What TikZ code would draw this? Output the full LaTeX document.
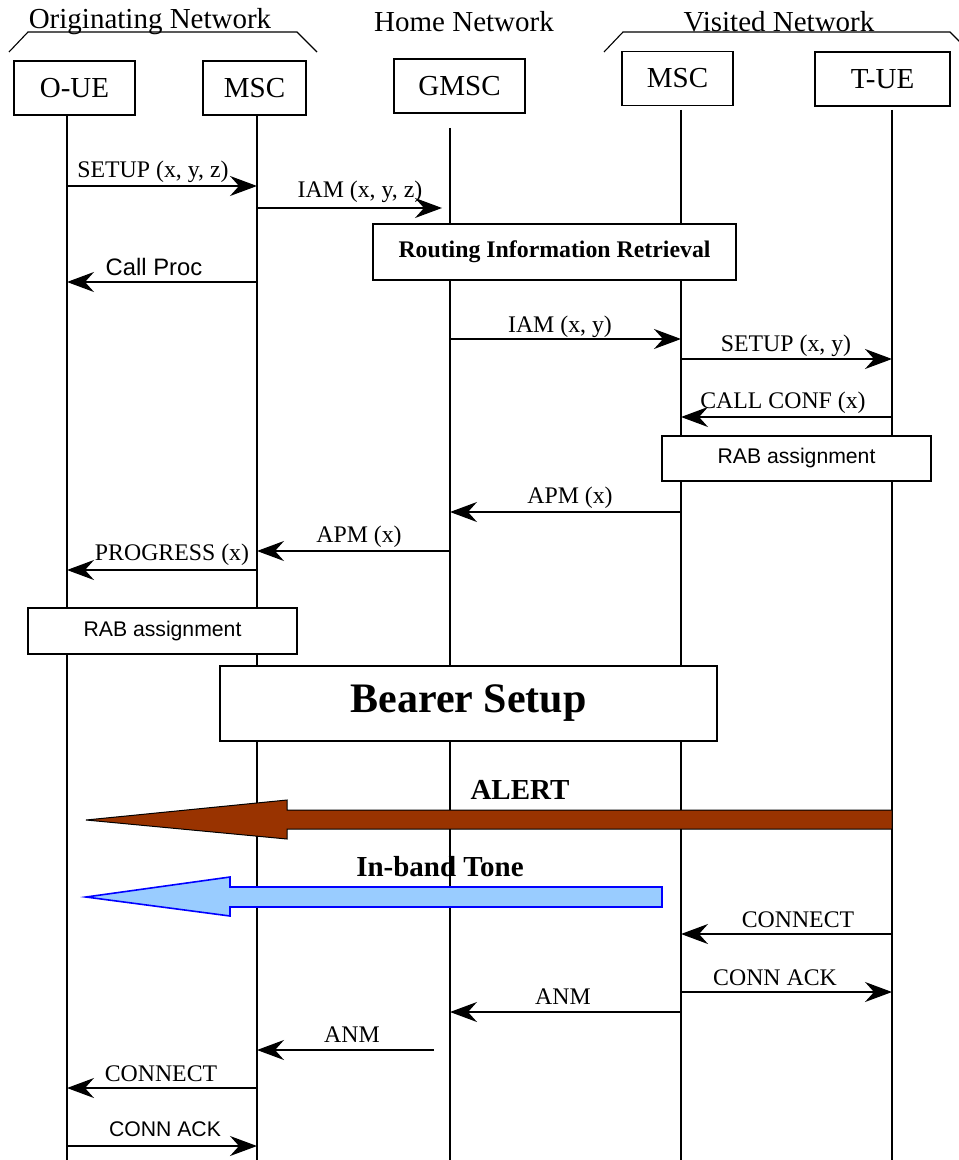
\documentclass[tikz,border=0pt]{standalone}
\usepackage{fontspec}
\setmainfont{Liberation Serif}
\newfontfamily\arialfont{Liberation Sans}
\usetikzlibrary{arrows.meta}
\newcommand\msgfont{\fontsize{11.9}{14}\selectfont}
\newcommand\sansmsg{\arialfont\fontsize{11.9}{14}\selectfont}
\newcommand\sanssmall{\arialfont\fontsize{10.6}{13}\selectfont}
\newcommand\bigfont{\fontsize{14.5}{17}\selectfont}
\definecolor{alertbrown}{HTML}{993300}
\definecolor{toneblue}{HTML}{99CCFF}

\begin{document}
\begin{tikzpicture}[x=0.5pt, y=-0.5pt, line width=0.55pt, >={Stealth[length=13.5pt, width=10pt, inset=4.5pt]},
	ent/.style={draw, fill=white, minimum height=27pt, inner sep=0pt, font=\bigfont},
	proc/.style={draw, fill=white, inner sep=0pt},
	msg/.style={->, line width=0.75pt},
	lbl/.style={inner sep=0pt, font=\msgfont}]
	\useasboundingbox (0,0) rectangle (958,1160);
	% network headers
	\node[inner sep=0pt, font=\bigfont] (orig) at (150,22) {Originating Network};
	\node[inner sep=0pt, font=\bigfont] (home) at (464,22) {Home Network};
	\node[inner sep=0pt, font=\bigfont] (visit) at (779,22) {Visited Network};
	\draw (9,52) -- (28,32) -- (297,32) -- (317,52);
	\draw (604,52) -- (623,32) -- (950,32) -- (970,52);
	% lifelines
	\coordinate (oue) at (67,115);
	\coordinate (msc) at (257,115);
	\coordinate (gmsc) at (450,128);
	\coordinate (vmsc) at (681,110);
	\coordinate (tue) at (892,110);
	\coordinate (gmscT) at (442,128);
	\coordinate (gmscL) at (434,128);
	\foreach \l in {oue,msc,gmsc,vmsc,tue} \draw (\l) -- (\l |- 0,1160);
	% entities
	\node[ent, minimum width=60.5pt] (boxOUE) at (74.5,88) {O-UE};
	\node[ent, minimum width=51.5pt] (boxMSC) at (254.5,88) {MSC};
	\node[ent, minimum width=65.5pt] (boxGMSC) at (459.5,86) {GMSC};
	\node[ent, minimum width=55.5pt] (boxVMSC) at (677.5,78.5) {MSC};
	\node[ent, minimum width=67.5pt] (boxTUE) at (882.5,79) {T-UE};
	% procedures
	\node[proc, minimum width=181.5pt, minimum height=28pt, font=\bfseries\msgfont] (routing) at (554.5,252) {Routing Information Retrieval};
	\node[proc, minimum width=134.5pt, minimum height=22.5pt, font=\sanssmall] (rabV) at (796.5,458.5) {RAB assignment};
	\node[proc, minimum width=134.5pt, minimum height=23pt, font=\sanssmall] (rabO) at (162.5,631) {RAB assignment};
	\node[proc, minimum width=248.5pt, minimum height=37.5pt, font=\bfseries\fontsize{21}{25}\selectfont] (bearer) at (468.5,703.5) {Bearer Setup};
	% messages
	\foreach \s/\e/\y/\t/\lx/\ly/\f in {
		oue/msc/186/{SETUP (x, y, z)}/153/172/\msgfont,
		msc/gmscT/208/{IAM (x, y, z)}/360/192/\msgfont,
		msc/oue/282/{Call Proc}/154/267/\sansmsg,
		gmsc/vmsc/339/{IAM (x, y)}/560/327/\msgfont,
		vmsc/tue/359/{SETUP (x, y)}/786/346/\msgfont,
		tue/vmsc/417/{CALL CONF (x)}/783/403/\msgfont,
		vmsc/gmsc/512/{APM (x)}/570/498/\msgfont,
		gmsc/msc/551/{APM (x)}/359/537/\msgfont,
		msc/oue/570/{PROGRESS (x)}/172/555/\msgfont,
		tue/vmsc/934/{CONNECT}/798/920/\msgfont,
		vmsc/tue/992/{CONN ACK}/775/978/\msgfont,
		vmsc/gmsc/1012/{ANM}/563/997/\msgfont,
		gmscL/msc/1050/{ANM}/352/1035/\msgfont,
		msc/oue/1088/{CONNECT}/161/1074/\msgfont,
		oue/msc/1146/{CONN ACK}/165/1129/\sanssmall} {
		\draw[msg] (\s |- 0,\y) -- (\e |- 0,\y);
		\node[lbl, font=\f] (m\y) at (\lx,\ly) {\t};
	}
	% alerting and tone
	\fill[alertbrown, draw=black, line width=0.5pt] (tue |- 0,810) -- (287,810) -- (287,800) -- (86,820) -- (287,839) -- (287,829) -- (tue |- 0,829) -- cycle;
	\node[lbl, font=\bfseries\bigfont] (alert) at (520,790) {ALERT};
	\fill[toneblue, draw=blue, line width=0.8pt] (662,887) -- (230,887) -- (230,877) -- (86,897) -- (230,916) -- (230,907) -- (662,907) -- cycle;
	\node[lbl, font=\bfseries\bigfont] (tone) at (440,867) {In-band Tone};
\end{tikzpicture}
\end{document}
